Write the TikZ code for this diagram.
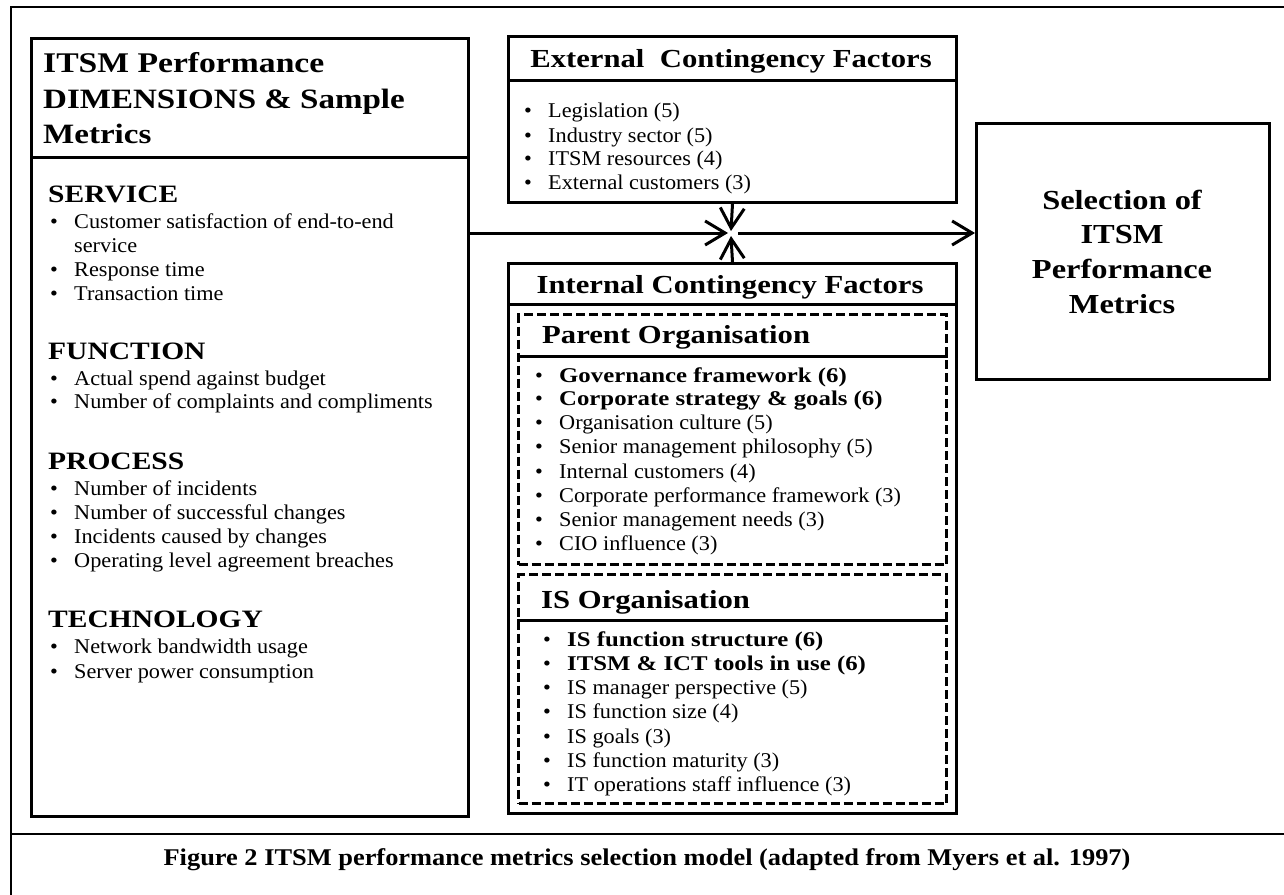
\documentclass[tikz,border=0pt]{standalone}
\usepackage{fontspec}
\setmainfont{Liberation Serif}
\newfontfamily\rgf{Liberation Serif}[FakeStretch=1.06]
\newfontfamily\bdf{Liberation Serif Bold}[FakeStretch=1.18]
\newfontfamily\capf{Liberation Serif Bold}[FakeStretch=1.1]
\usetikzlibrary{arrows.meta}
\tikzset{
  box/.style={draw, line width=3pt, inner sep=0pt, anchor=north west},
  dbox/.style={draw, line width=3pt, dash pattern=on 9pt off 4pt, inner sep=0pt, anchor=north west},
  divider/.style={line width=3pt},
  frame/.style={line width=2pt},
  hd/.style={inner sep=0pt, font=\bdf\fontsize{27.5}{33}\selectfont},
  sub/.style={anchor=base west, inner sep=0pt, font=\bdf\fontsize{25}{30}\selectfont},
  it/.style={anchor=base west, inner sep=0pt, font=\rgf\fontsize{21}{24}\selectfont},
  bi/.style={anchor=base west, inner sep=0pt, font=\bdf\fontsize{21}{24}\selectfont},
  bul/.style={anchor=base west, inner sep=0pt, font=\rgf\fontsize{21}{24}\selectfont},
  arr/.style={line width=3pt, -{Straight Barb[length=20pt,width=24pt]}},
}
\newcommand\itm[5]{\node[bul] (#1d) at (#2,#3) {•}; \node[#4] (#1) at (#2+24,#3) {#5};}
\begin{document}
\begin{tikzpicture}[x=1pt,y=-1pt]
\useasboundingbox (0,0) rectangle (1284,894);
\clip (0,0) rectangle (1284,894);
% outer frame
\coordinate (ftr) at (1290,7);
\coordinate (ftl) at (11,7);
\coordinate (fbl) at (11,900);
\coordinate (sl) at (11,834);
\coordinate (sr) at (1290,834);
\draw[frame] (ftr) -- (ftl) -- (fbl);
\draw[frame] (sl) -- (sr);

% boxes
\node[box, minimum width=437pt, minimum height=778pt] (L) at (30,37) {};
\node[box, minimum width=448pt, minimum height=166pt] (E) at (507,35) {};
\node[box, minimum width=448pt, minimum height=550pt] (I) at (507,262) {};
\node[box, minimum width=293pt, minimum height=256pt] (S) at (975,122) {};
\node[dbox, minimum width=428pt, minimum height=250pt] (P) at (517,313) {};
\node[dbox, minimum width=428pt, minimum height=229pt] (Q) at (517,573) {};

\draw[divider] (L.west |- 0,157) -- (L.east |- 0,157);
\draw[divider] (E.west |- 0,80) -- (E.east |- 0,80);
\draw[divider] (I.west |- 0,304) -- (I.east |- 0,304);
\draw[divider] (P.west |- 0,356) -- (P.east |- 0,356);
\draw[divider] (Q.west |- 0,620) -- (Q.east |- 0,620);

% left box
\node[hd, anchor=base west, font=\bdf\fontsize{28.5}{33}\selectfont] (lh1) at (43,72) {ITSM Performance};
\node[hd, anchor=base west, font=\bdf\fontsize{28}{33}\selectfont] (lh2) at (43,108) {DIMENSIONS \& Sample};
\node[hd, anchor=base west, font=\bdf\fontsize{28}{33}\selectfont] (lh3) at (43,143) {Metrics};

\node[sub] (sv) at (48,202) {SERVICE};
\itm{s1}{50}{228}{it}{Customer satisfaction of end-to-end}
\node[it] (s1c) at (74,252) {service};
\itm{s2}{50}{276}{it}{Response time}
\itm{s3}{50}{300}{it}{Transaction time}

\node[sub] (fn) at (48,359) {FUNCTION};
\itm{f1}{50}{385}{it}{Actual spend against budget}
\itm{f2}{50}{408}{it}{Number of complaints and compliments}

\node[sub] (pr) at (48,469) {PROCESS};
\itm{p1}{50}{495}{it}{Number of incidents}
\itm{p2}{50}{519}{it}{Number of successful changes}
\itm{p3}{50}{543}{it}{Incidents caused by changes}
\itm{p4}{50}{567}{it}{Operating level agreement breaches}

\node[sub] (tc) at (48,627) {TECHNOLOGY};
\itm{t1}{50}{653}{it}{Network bandwidth usage}
\itm{t2}{50}{678}{it}{Server power consumption}

% external
\node[hd, anchor=base, font=\bdf\fontsize{26}{31}\selectfont] (eh) at (731,67) {External\ \ Contingency Factors};
\itm{e1}{524}{117}{it}{Legislation (5)}
\itm{e2}{524}{142}{it}{Industry sector (5)}
\itm{e3}{524}{165}{it}{ITSM resources (4)}
\itm{e4}{524}{189}{it}{External customers (3)}

% internal
\node[hd, anchor=base, font=\bdf\fontsize{26}{31}\selectfont] (ih) at (730,293) {Internal Contingency Factors};
\node[hd, anchor=base west, font=\bdf\fontsize{26}{31}\selectfont] (ph) at (542,343) {Parent Organisation};
\itm{a1}{535}{382}{bi}{Governance framework (6)}
\itm{a2}{535}{405}{bi}{Corporate strategy \& goals (6)}
\itm{a3}{535}{429}{it}{Organisation culture (5)}
\itm{a4}{535}{453}{it}{Senior management philosophy (5)}
\itm{a5}{535}{478}{it}{Internal customers (4)}
\itm{a6}{535}{502}{it}{Corporate performance framework (3)}
\itm{a7}{535}{526}{it}{Senior management needs (3)}
\itm{a8}{535}{550}{it}{CIO influence (3)}

\node[hd, anchor=base west, font=\bdf\fontsize{26}{31}\selectfont] (qh) at (541,608) {IS Organisation};
\itm{b1}{543}{646}{bi}{IS function structure (6)}
\itm{b2}{543}{670}{bi}{ITSM \& ICT tools in use (6)}
\itm{b3}{543}{694}{it}{IS manager perspective (5)}
\itm{b4}{543}{718}{it}{IS function size (4)}
\itm{b5}{543}{743}{it}{IS goals (3)}
\itm{b6}{543}{767}{it}{IS function maturity (3)}
\itm{b7}{543}{791}{it}{IT operations staff influence (3)}

% selection
\node[hd, anchor=base] (x1) at (1122,209) {Selection of};
\node[hd, anchor=base] (x2) at (1122,243) {ITSM};
\node[hd, anchor=base] (x3) at (1122,278) {Performance};
\node[hd, anchor=base] (x4) at (1122,313) {Metrics};

% arrows
\coordinate (c) at (731,233);
\coordinate (cw) at (728,233);
\coordinate (cn) at (731,231);
\coordinate (cs) at (731,236);
\coordinate (ce) at (738,233);
\draw[arr] (c -| L.east) -- (cw);
\draw[arr] (E.south) -- (cn);
\draw[arr] (I.north) -- (cs);
\draw[arr] (ce) -- (ce -| S.west);

% caption
\node[anchor=base, inner sep=0pt, font=\capf\fontsize{24}{28}\selectfont] (cap) at (647,865) {Figure 2 ITSM performance metrics selection model (adapted from Myers et al. 1997)};
\end{tikzpicture}
\end{document}
